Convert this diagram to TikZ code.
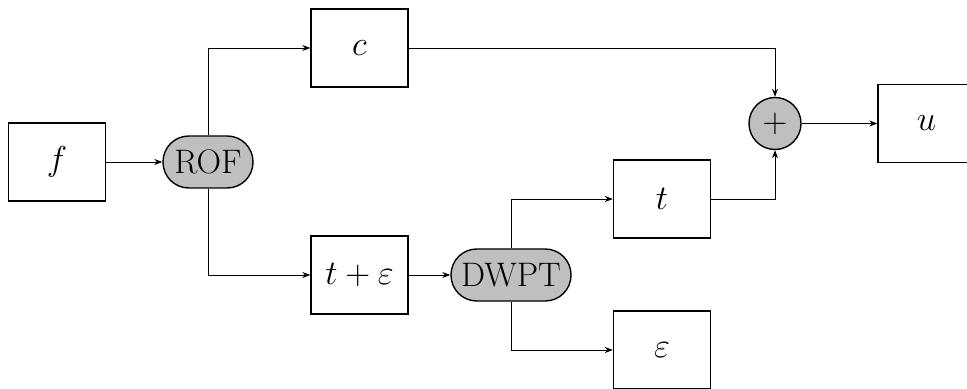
\documentclass[tikz,border=0pt]{standalone}
\usetikzlibrary{arrows.meta}
\begin{document}
\begin{tikzpicture}[x=0.5pt,y=-0.5pt,
  font=\fontsize{17}{20}\selectfont,
  blockbox/.style={draw,line width=0.7pt,minimum width=48.5pt,minimum height=39pt,inner sep=0pt},
  procbox/.style={draw,line width=0.7pt,fill=black!25,rectangle,rounded corners=12.9pt,minimum height=26pt,inner sep=0pt},
  sumnode/.style={draw,line width=0.7pt,fill=black!25,circle,minimum size=26pt,inner sep=0pt},
  conn/.style={line width=0.4pt,-{Stealth[length=4pt,width=3pt]}}]
\useasboundingbox (0,0) rectangle (967,389);
\node[blockbox] (f) at (57,162) {$f$};
\node[procbox,minimum width=45pt] (rof) at (208,162) {ROF};
\node[blockbox] (c) at (359.5,48) {$c$};
\node[blockbox] (tpe) at (359.5,275) {$t+\varepsilon$};
\node[procbox,minimum width=60pt] (dwpt) at (511,275) {DWPT};
\node[blockbox] (t) at (662,199) {$t$};
\node[blockbox] (eps) at (662,350) {$\varepsilon$};
\node[sumnode] (plus) at (775,123.5) {$+$};
\node[blockbox] (u) at (926.5,123.5) {$u$};
\draw[conn] (f.east) -- (rof.west);
\draw[conn] (rof.north) |- (c.west);
\draw[conn] (rof.south) |- (tpe.west);
\draw[conn] (c.east) -| (plus.north);
\draw[conn] (tpe.east) -- (dwpt.west);
\draw[conn] (dwpt.north) |- (t.west);
\draw[conn] (dwpt.south) |- (eps.west);
\draw[conn] (t.east) -| (plus.south);
\draw[conn] (plus.east) -- (u.west);
\end{tikzpicture}
\end{document}
